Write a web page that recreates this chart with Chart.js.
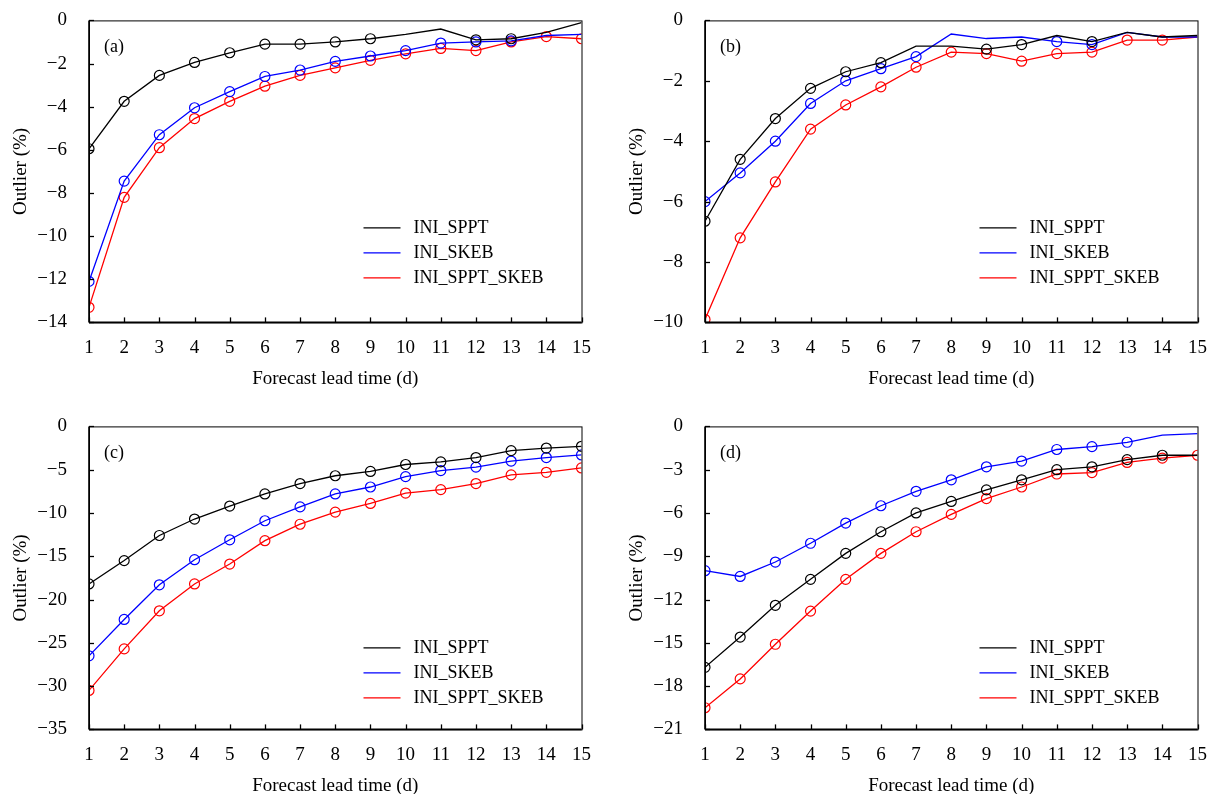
<!DOCTYPE html>
<html>
<head>
<meta charset="utf-8">
<script src="https://cdn.jsdelivr.net/npm/chart.js@4"></script>
<style>
body{margin:0;background:#fff;width:1207px;height:794px;position:relative;overflow:hidden}
canvas{position:absolute}
</style>
</head>
<body>
<canvas id="pa"></canvas>
<canvas id="pb"></canvas>
<canvas id="pc"></canvas>
<canvas id="pd"></canvas>
<script>
const days = [1,2,3,4,5,6,7,8,9,10,11,12,13,14,15];
const seriesNames = ['INI_SPPT','INI_SKEB','INI_SPPT_SKEB'];
const colors = ['#000000','#0000ff','#ff0000'];

// panel (a)
const aSPPT = [-5.95,-3.75,-2.55,-1.95,-1.5,-1.1,-1.1,-1.0,-0.85,-0.65,-0.4,-0.9,-0.85,-0.55,-0.1];
const aSKEB = [-12.1,-7.45,-5.3,-4.05,-3.3,-2.6,-2.3,-1.9,-1.65,-1.4,-1.05,-1.0,-0.95,-0.7,-0.65];
const aBOTH = [-13.3,-8.2,-5.9,-4.55,-3.75,-3.05,-2.55,-2.2,-1.85,-1.55,-1.3,-1.4,-1.0,-0.75,-0.85];
// panel (b)
const bSPPT = [-6.65,-4.6,-3.25,-2.25,-1.7,-1.4,-0.85,-0.85,-0.95,-0.8,-0.5,-0.7,-0.4,-0.55,-0.5];
const bSKEB = [-6.0,-5.05,-4.0,-2.75,-2.0,-1.6,-1.2,-0.45,-0.6,-0.55,-0.7,-0.8,-0.4,-0.55,-0.55];
const bBOTH = [-9.9,-7.2,-5.35,-3.6,-2.8,-2.2,-1.55,-1.05,-1.1,-1.35,-1.1,-1.05,-0.65,-0.65,-0.55];
// panel (c)
const cSPPT = [-18.2,-15.5,-12.6,-10.7,-9.2,-7.8,-6.6,-5.7,-5.2,-4.4,-4.1,-3.6,-2.8,-2.5,-2.3];
const cSKEB = [-26.5,-22.3,-18.3,-15.4,-13.1,-10.9,-9.3,-7.8,-7.0,-5.8,-5.1,-4.7,-4.0,-3.6,-3.3];
const cBOTH = [-30.5,-25.7,-21.3,-18.2,-15.9,-13.2,-11.3,-9.9,-8.9,-7.7,-7.3,-6.6,-5.6,-5.3,-4.8];
// panel (d)
const dSPPT = [-16.7,-14.6,-12.4,-10.6,-8.8,-7.3,-6.0,-5.2,-4.4,-3.7,-3.0,-2.8,-2.3,-2.0,-2.0];
const dSKEB = [-10.0,-10.4,-9.4,-8.1,-6.7,-5.5,-4.5,-3.7,-2.8,-2.4,-1.6,-1.4,-1.1,-0.6,-0.5];
const dBOTH = [-19.5,-17.5,-15.1,-12.8,-10.6,-8.8,-7.3,-6.1,-5.0,-4.2,-3.3,-3.2,-2.5,-2.2,-2.0];

// which points carry a circle marker (1 = marker)
const aMarks = [[1,1,1,1,1,1,1,1,1,0,0,1,1,0,0],[1,1,1,1,1,1,1,1,1,1,1,1,1,0,0],[1,1,1,1,1,1,1,1,1,1,1,1,1,1,1]];
const bMarks = [[1,1,1,1,1,1,0,0,1,1,0,1,0,0,0],[1,1,1,1,1,1,1,0,0,0,1,1,0,0,0],[1,1,1,1,1,1,1,1,1,1,1,1,1,1,0]];
const cMarks = [[1,1,1,1,1,1,1,1,1,1,1,1,1,1,1],[1,1,1,1,1,1,1,1,1,1,1,1,1,1,1],[1,1,1,1,1,1,1,1,1,1,1,1,1,1,1]];
const dMarks = [[1,1,1,1,1,1,1,1,1,1,1,1,1,1,0],[1,1,1,1,1,1,1,1,1,1,1,1,1,0,0],[1,1,1,1,1,1,1,1,1,1,1,1,1,1,1]];

const FONT = "'Liberation Serif', 'Times New Roman', serif";

const framePlugin = {
  id: 'frame',
  afterDraw(chart, args, opts) {
    const c = chart.ctx, a = chart.chartArea;
    c.save();
    c.strokeStyle = '#000';
    c.lineWidth = 1;
    c.strokeRect(a.left + 0.5, a.top + 0.5, a.right - a.left, a.bottom - a.top);
    c.lineWidth = 1.6;
    c.beginPath(); c.moveTo(a.left, a.bottom); c.lineTo(a.right, a.bottom); c.stroke();
    c.beginPath(); c.moveTo(a.left, a.top); c.lineTo(a.left, a.bottom); c.stroke();
    // inward ticks
    c.lineWidth = 1.3;
    chart.scales.x.ticks.forEach(t => {
      const x = Math.round(chart.scales.x.getPixelForValue(t.value)) + 0.5;
      c.beginPath(); c.moveTo(x, a.bottom); c.lineTo(x, a.bottom - 5); c.stroke();
    });
    chart.scales.y.ticks.forEach(t => {
      const y = Math.round(chart.scales.y.getPixelForValue(t.value)) + 0.5;
      c.beginPath(); c.moveTo(a.left, y); c.lineTo(a.left + 5, y); c.stroke();
    });
    // panel tag
    c.font = '18px ' + FONT; c.fillStyle = '#000'; c.textBaseline = 'middle';
    c.fillText(opts.tag, a.left + 15, a.top + 27);
    // legend
    chart.data.datasets.forEach((ds, i) => {
      const y = a.bottom - opts.legendOffset + i * 25 + 0.5;
      const x0 = a.right - 218;
      c.strokeStyle = ds.borderColor; c.lineWidth = 1.3;
      c.beginPath(); c.moveTo(x0, y); c.lineTo(x0 + 37, y); c.stroke();
      c.fillText(ds.label, x0 + 50, y);
    });
    c.restore();
  }
};

function makePanel(id, left, top, plotW, plotH, ymin, ystep, series, marks, tag, legendOffset) {
  const yw = 89, xh = 72;
  const cv = document.getElementById(id);
  const w = yw + plotW + 23;
  cv.width = w;
  cv.height = plotH + xh + 30;
  const chart = new Chart(cv.getContext('2d'), {
    type: 'line',
    data: {
      datasets: series.map((vals, i) => ({
        label: seriesNames[i],
        data: days.map((d, k) => ({x: d, y: vals[k]})),
        borderColor: colors[i],
        borderWidth: 1.3,
        pointRadius: marks[i].map(m => m ? 5 : 0),
        pointBorderColor: colors[i],
        pointBackgroundColor: 'rgba(0,0,0,0)',
        pointBorderWidth: 1.2
      }))
    },
    options: {
      responsive: false,
      animation: false,
      layout: {padding: 0},
      plugins: {legend: {display: false}, tooltip: {enabled: false}, frame: {tag: tag, legendOffset: legendOffset}},
      scales: {
        x: {
          type: 'linear', min: 1, max: 15,
          grid: {display: false}, border: {display: false},
          afterFit(s) { s.height = xh; },
          ticks: {stepSize: 1, color: '#000', font: {family: FONT, size: 19}, padding: 6, maxRotation: 0},
          title: {display: true, text: 'Forecast lead time (d)', color: '#000', font: {family: FONT, size: 19}, padding: {top: 8}}
        },
        y: {
          min: ymin, max: 0,
          grid: {display: false}, border: {display: false},
          afterFit(s) { s.width = yw; },
          ticks: {stepSize: ystep, color: '#000', font: {family: FONT, size: 19}, padding: 14,
            callback: v => String(v).replace('-', '\u2212')},
          title: {display: true, text: 'Outlier (%)', color: '#000', font: {family: FONT, size: 19}, padding: {top: 10, bottom: 0}}
        }
      }
    },
    plugins: [framePlugin]
  });
  // fit canvas height so the plot area lands where the figure has it
  const a = chart.chartArea;
  chart.resize(w, cv.height + (plotH - (a.bottom - a.top)));
  cv.style.top = (top - chart.chartArea.top) + 'px';
  cv.style.left = (left - chart.chartArea.left) + 'px';
  return chart;
}

makePanel('pa', 89, 20, 492, 302, -14, 2, [aSPPT, aSKEB, aBOTH], aMarks, '(a)', 95);
makePanel('pb', 705, 20, 492, 302, -10, 2, [bSPPT, bSKEB, bBOTH], bMarks, '(b)', 95);
makePanel('pc', 89, 426, 492, 303, -35, 5, [cSPPT, cSKEB, cBOTH], cMarks, '(c)', 82);
makePanel('pd', 705, 426, 492, 303, -21, 3, [dSPPT, dSKEB, dBOTH], dMarks, '(d)', 82);
</script>
</body>
</html>
